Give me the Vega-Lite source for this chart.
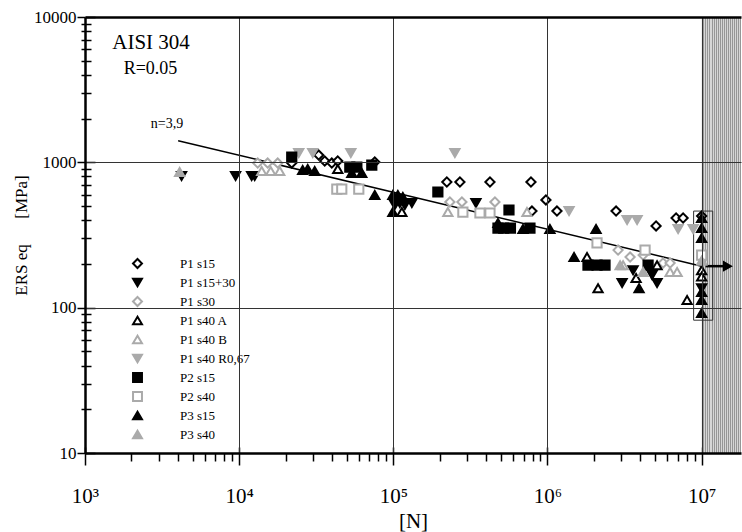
{
  "$schema": "https://vega.github.io/schema/vega-lite/v6.json",
  "width": 656,
  "height": 436,
  "autosize": "none",
  "padding": {"left": 85, "top": 17, "right": 1, "bottom": 79},
  "background": "white",
  "config": {
    "view": {"stroke": null},
    "font": "Liberation Serif",
    "axis": {"labelFont": "Liberation Serif", "titleFont": "Liberation Serif", "labelColor": "black", "titleColor": "black", "titleFontWeight": "normal"}
  },
  "datasets": {
    "pts": [
      {"series": "P1 s15", "n": 21930, "s": 989},
      {"series": "P1 s15", "n": 32800, "s": 1122},
      {"series": "P1 s15", "n": 35900, "s": 1021},
      {"series": "P1 s15", "n": 39900, "s": 989},
      {"series": "P1 s15", "n": 43600, "s": 1021},
      {"series": "P1 s15", "n": 75800, "s": 1005},
      {"series": "P1 s15", "n": 222400, "s": 732},
      {"series": "P1 s15", "n": 270400, "s": 732},
      {"series": "P1 s15", "n": 423600, "s": 732},
      {"series": "P1 s15", "n": 781400, "s": 732},
      {"series": "P1 s15", "n": 977000, "s": 551},
      {"series": "P1 s15", "n": 1152000, "s": 462},
      {"series": "P1 s15", "n": 792900, "s": 462},
      {"series": "P1 s15", "n": 2785000, "s": 462},
      {"series": "P1 s15", "n": 5062000, "s": 365},
      {"series": "P1 s15", "n": 6827000, "s": 414},
      {"series": "P1 s15", "n": 7580000, "s": 414},
      {"series": "P1 s15", "n": 10000000, "s": 427},
      {"series": "P1 s15+30", "n": 4230, "s": 805},
      {"series": "P1 s15+30", "n": 9480, "s": 805},
      {"series": "P1 s15+30", "n": 12050, "s": 805},
      {"series": "P1 s15+30", "n": 12610, "s": 805},
      {"series": "P1 s15+30", "n": 102300, "s": 509},
      {"series": "P1 s15+30", "n": 110200, "s": 525},
      {"series": "P1 s15+30", "n": 118800, "s": 509},
      {"series": "P1 s15+30", "n": 131900, "s": 525},
      {"series": "P1 s15+30", "n": 343400, "s": 525},
      {"series": "P1 s15+30", "n": 3048000, "s": 148},
      {"series": "P1 s15+30", "n": 3591000, "s": 181},
      {"series": "P1 s15+30", "n": 4769000, "s": 168},
      {"series": "P1 s15+30", "n": 5138000, "s": 148},
      {"series": "P1 s15+30", "n": 10000000, "s": 136},
      {"series": "P1 s30", "n": 13190, "s": 989},
      {"series": "P1 s30", "n": 15310, "s": 989},
      {"series": "P1 s30", "n": 17790, "s": 989},
      {"series": "P1 s30", "n": 232800, "s": 534},
      {"series": "P1 s30", "n": 278600, "s": 534},
      {"series": "P1 s30", "n": 456200, "s": 534},
      {"series": "P1 s30", "n": 2869000, "s": 249},
      {"series": "P1 s30", "n": 3434000, "s": 223},
      {"series": "P1 s30", "n": 4171000, "s": 230},
      {"series": "P1 s30", "n": 5622000, "s": 203},
      {"series": "P1 s30", "n": 6243000, "s": 203},
      {"series": "P1 s40 A", "n": 43600, "s": 899},
      {"series": "P1 s40 A", "n": 113600, "s": 455},
      {"series": "P1 s40 A", "n": 1805000, "s": 223},
      {"series": "P1 s40 A", "n": 2128000, "s": 136},
      {"series": "P1 s40 A", "n": 3756000, "s": 160},
      {"series": "P1 s40 A", "n": 5138000, "s": 196},
      {"series": "P1 s40 A", "n": 8047000, "s": 113},
      {"series": "P1 s40 A", "n": 10000000, "s": 181},
      {"series": "P1 s40 A", "n": 10000000, "s": 164},
      {"series": "P1 s40 B", "n": 14000, "s": 871},
      {"series": "P1 s40 B", "n": 16020, "s": 871},
      {"series": "P1 s40 B", "n": 18330, "s": 871},
      {"series": "P1 s40 B", "n": 225800, "s": 455},
      {"series": "P1 s40 B", "n": 736200, "s": 455},
      {"series": "P1 s40 B", "n": 3093000, "s": 196},
      {"series": "P1 s40 B", "n": 6243000, "s": 176},
      {"series": "P1 s40 B", "n": 6931000, "s": 176},
      {"series": "P1 s40 R0,67", "n": 24340, "s": 1159},
      {"series": "P1 s40 R0,67", "n": 30000, "s": 1159},
      {"series": "P1 s40 R0,67", "n": 53000, "s": 1159},
      {"series": "P1 s40 R0,67", "n": 250800, "s": 1159},
      {"series": "P1 s40 R0,67", "n": 1380000, "s": 462},
      {"series": "P1 s40 R0,67", "n": 3284000, "s": 401},
      {"series": "P1 s40 R0,67", "n": 3813000, "s": 401},
      {"series": "P1 s40 R0,67", "n": 7036000, "s": 348},
      {"series": "P1 s40 R0,67", "n": 8809000, "s": 348},
      {"series": "P2 s15", "n": 21930, "s": 1087},
      {"series": "P2 s15", "n": 52200, "s": 928},
      {"series": "P2 s15", "n": 58000, "s": 928},
      {"series": "P2 s15", "n": 72500, "s": 958},
      {"series": "P2 s15", "n": 194500, "s": 625},
      {"series": "P2 s15", "n": 562600, "s": 470},
      {"series": "P2 s15", "n": 477300, "s": 353},
      {"series": "P2 s15", "n": 520000, "s": 353},
      {"series": "P2 s15", "n": 575000, "s": 353},
      {"series": "P2 s15", "n": 769700, "s": 353},
      {"series": "P2 s15", "n": 1831000, "s": 196},
      {"series": "P2 s15", "n": 2096000, "s": 196},
      {"series": "P2 s15", "n": 2362000, "s": 196},
      {"series": "P2 s15", "n": 4494000, "s": 196},
      {"series": "P2 s40", "n": 43000, "s": 655},
      {"series": "P2 s40", "n": 46300, "s": 655},
      {"series": "P2 s40", "n": 59700, "s": 655},
      {"series": "P2 s40", "n": 282600, "s": 455},
      {"series": "P2 s40", "n": 364600, "s": 448},
      {"series": "P2 s40", "n": 423600, "s": 448},
      {"series": "P2 s40", "n": 2096000, "s": 279},
      {"series": "P2 s40", "n": 4295000, "s": 249},
      {"series": "P2 s40", "n": 10000000, "s": 230},
      {"series": "P3 s15", "n": 25820, "s": 885},
      {"series": "P3 s15", "n": 27840, "s": 899},
      {"series": "P3 s15", "n": 30900, "s": 871},
      {"series": "P3 s15", "n": 53800, "s": 844},
      {"series": "P3 s15", "n": 62400, "s": 844},
      {"series": "P3 s15", "n": 75800, "s": 596},
      {"series": "P3 s15", "n": 99300, "s": 596},
      {"series": "P3 s15", "n": 107000, "s": 596},
      {"series": "P3 s15", "n": 115300, "s": 577},
      {"series": "P3 s15", "n": 99300, "s": 455},
      {"series": "P3 s15", "n": 477300, "s": 382},
      {"series": "P3 s15", "n": 693600, "s": 348},
      {"series": "P3 s15", "n": 1037000, "s": 348},
      {"series": "P3 s15", "n": 2065000, "s": 348},
      {"series": "P3 s15", "n": 1487000, "s": 223},
      {"series": "P3 s15", "n": 3927000, "s": 136},
      {"series": "P3 s15", "n": 10000000, "s": 414},
      {"series": "P3 s15", "n": 10000000, "s": 353},
      {"series": "P3 s15", "n": 10000000, "s": 301},
      {"series": "P3 s15", "n": 10000000, "s": 128},
      {"series": "P3 s15", "n": 10000000, "s": 113},
      {"series": "P3 s15", "n": 10000000, "s": 92},
      {"series": "P3 s40", "n": 4110, "s": 857},
      {"series": "P3 s40", "n": 2958000, "s": 196},
      {"series": "P3 s40", "n": 4171000, "s": 176},
      {"series": "P3 s40", "n": 10000000, "s": 210}
    ]
  },
  "layer": [
    {
      "data": {"values": [{"x1": 10000000, "x2": 18000000, "y1": 10, "y2": 10000}]},
      "mark": {"type": "rect", "stroke": null, "fill": {"gradient": "linear", "x1": 0, "y1": 0, "x2": 1, "y2": 0, "stops": [
        {"offset": 0, "color": "#d6d6d6"}, {"offset": 0.025, "color": "#d6d6d6"}, {"offset": 0.025, "color": "#969696"}, {"offset": 0.05, "color": "#969696"},
        {"offset": 0.05, "color": "#d6d6d6"}, {"offset": 0.075, "color": "#d6d6d6"}, {"offset": 0.075, "color": "#969696"}, {"offset": 0.1, "color": "#969696"},
        {"offset": 0.1, "color": "#d6d6d6"}, {"offset": 0.125, "color": "#d6d6d6"}, {"offset": 0.125, "color": "#969696"}, {"offset": 0.15, "color": "#969696"},
        {"offset": 0.15, "color": "#d6d6d6"}, {"offset": 0.175, "color": "#d6d6d6"}, {"offset": 0.175, "color": "#969696"}, {"offset": 0.2, "color": "#969696"},
        {"offset": 0.2, "color": "#d6d6d6"}, {"offset": 0.225, "color": "#d6d6d6"}, {"offset": 0.225, "color": "#969696"}, {"offset": 0.25, "color": "#969696"},
        {"offset": 0.25, "color": "#d6d6d6"}, {"offset": 0.275, "color": "#d6d6d6"}, {"offset": 0.275, "color": "#969696"}, {"offset": 0.3, "color": "#969696"},
        {"offset": 0.3, "color": "#d6d6d6"}, {"offset": 0.325, "color": "#d6d6d6"}, {"offset": 0.325, "color": "#969696"}, {"offset": 0.35, "color": "#969696"},
        {"offset": 0.35, "color": "#d6d6d6"}, {"offset": 0.375, "color": "#d6d6d6"}, {"offset": 0.375, "color": "#969696"}, {"offset": 0.4, "color": "#969696"},
        {"offset": 0.4, "color": "#d6d6d6"}, {"offset": 0.425, "color": "#d6d6d6"}, {"offset": 0.425, "color": "#969696"}, {"offset": 0.45, "color": "#969696"},
        {"offset": 0.45, "color": "#d6d6d6"}, {"offset": 0.475, "color": "#d6d6d6"}, {"offset": 0.475, "color": "#969696"}, {"offset": 0.5, "color": "#969696"},
        {"offset": 0.5, "color": "#d6d6d6"}, {"offset": 0.525, "color": "#d6d6d6"}, {"offset": 0.525, "color": "#969696"}, {"offset": 0.55, "color": "#969696"},
        {"offset": 0.55, "color": "#d6d6d6"}, {"offset": 0.575, "color": "#d6d6d6"}, {"offset": 0.575, "color": "#969696"}, {"offset": 0.6, "color": "#969696"},
        {"offset": 0.6, "color": "#d6d6d6"}, {"offset": 0.625, "color": "#d6d6d6"}, {"offset": 0.625, "color": "#969696"}, {"offset": 0.65, "color": "#969696"},
        {"offset": 0.65, "color": "#d6d6d6"}, {"offset": 0.675, "color": "#d6d6d6"}, {"offset": 0.675, "color": "#969696"}, {"offset": 0.7, "color": "#969696"},
        {"offset": 0.7, "color": "#d6d6d6"}, {"offset": 0.725, "color": "#d6d6d6"}, {"offset": 0.725, "color": "#969696"}, {"offset": 0.75, "color": "#969696"},
        {"offset": 0.75, "color": "#d6d6d6"}, {"offset": 0.775, "color": "#d6d6d6"}, {"offset": 0.775, "color": "#969696"}, {"offset": 0.8, "color": "#969696"},
        {"offset": 0.8, "color": "#d6d6d6"}, {"offset": 0.825, "color": "#d6d6d6"}, {"offset": 0.825, "color": "#969696"}, {"offset": 0.85, "color": "#969696"},
        {"offset": 0.85, "color": "#d6d6d6"}, {"offset": 0.875, "color": "#d6d6d6"}, {"offset": 0.875, "color": "#969696"}, {"offset": 0.9, "color": "#969696"},
        {"offset": 0.9, "color": "#d6d6d6"}, {"offset": 0.925, "color": "#d6d6d6"}, {"offset": 0.925, "color": "#969696"}, {"offset": 0.95, "color": "#969696"},
        {"offset": 0.95, "color": "#d6d6d6"}, {"offset": 0.975, "color": "#d6d6d6"}, {"offset": 0.975, "color": "#969696"}, {"offset": 1, "color": "#969696"}
      ]}},
      "encoding": {
        "x": {"field": "x1", "type": "quantitative", "scale": {"type": "log", "domain": [1000, 18000000], "nice": false},
          "axis": {"orient": "bottom", "values": [1000, 10000, 100000, 1000000, 10000000], "tickSize": -6, "tickWidth": 1.5, "tickColor": "black", "labels": false, "domain": false, "grid": false, "title": null}},
        "x2": {"field": "x2"},
        "y": {"field": "y1", "type": "quantitative", "scale": {"type": "log", "domain": [10, 10000], "nice": false},
          "axis": {"orient": "left", "values": [10, 20, 30, 40, 50, 60, 70, 80, 90, 100, 200, 300, 400, 500, 600, 700, 800, 900, 1000, 2000, 3000, 4000, 5000, 6000, 7000, 8000, 9000, 10000],
            "tickSize": {"condition": {"test": "datum.value==10||datum.value==100||datum.value==1000||datum.value==10000", "value": -10}, "value": -6},
            "tickWidth": 1.5, "tickColor": "black", "labels": false, "domain": false, "grid": false, "title": null}},
        "y2": {"field": "y2"}
      }
    },
    {
      "data": {"values": [{"x1": 8870000, "x2": 11800000, "y1": 82, "y2": 462}]},
      "mark": {"type": "rect", "fillOpacity": 0, "stroke": "#333333", "strokeWidth": 1},
      "encoding": {
        "x": {"field": "x1", "type": "quantitative", "axis": null},
        "x2": {"field": "x2"},
        "y": {"field": "y1", "type": "quantitative", "axis": null},
        "y2": {"field": "y2"}
      }
    },
    {
      "data": {"values": [{"n": 4020, "s": 1409}, {"n": 10000000, "s": 193}]},
      "mark": {"type": "line", "color": "black", "strokeWidth": 1.5},
      "encoding": {
        "x": {"field": "n", "type": "quantitative", "axis": null},
        "y": {"field": "s", "type": "quantitative", "axis": null}
      }
    },
    {
      "data": {"values": [{"n": 10600000, "s": 193}, {"n": 14600000, "s": 193}]},
      "mark": {"type": "line", "color": "black", "strokeWidth": 2.5},
      "encoding": {
        "x": {"field": "n", "type": "quantitative", "axis": null},
        "y": {"field": "s", "type": "quantitative", "axis": null}
      }
    },
    {
      "data": {"values": [{"n": 14800000, "s": 193}]},
      "mark": {"type": "point", "shape": "triangle-right", "filled": true, "color": "black", "size": 130, "opacity": 1},
      "encoding": {
        "x": {"field": "n", "type": "quantitative", "axis": null},
        "y": {"field": "s", "type": "quantitative", "axis": null}
      }
    },
    {
      "data": {"name": "pts"},
      "mark": {"type": "point", "strokeWidth": 2, "size": 85, "opacity": 1},
      "encoding": {
        "x": {"field": "n", "type": "quantitative",
          "axis": {"orient": "bottom", "zindex": 1, "values": [1000, 2000, 3000, 4000, 5000, 6000, 7000, 8000, 9000, 10000, 20000, 30000, 40000, 50000, 60000, 70000, 80000, 90000, 100000, 200000, 300000, 400000, 500000, 600000, 700000, 800000, 900000, 1000000, 2000000, 3000000, 4000000, 5000000, 6000000, 7000000, 8000000, 9000000, 10000000],
            "labelExpr": "datum.value==1000?'10³':datum.value==10000?'10⁴':datum.value==100000?'10⁵':datum.value==1000000?'10⁶':datum.value==10000000?'10⁷':''",
            "labelFontSize": 21, "labelBaseline": "alphabetic", "labelPadding": 37, "labelOverlap": false, "labelFlush": false,
            "tickSize": {"condition": {"test": "datum.value==1000||datum.value==10000||datum.value==100000||datum.value==1000000||datum.value==10000000", "value": 12}, "value": 8},
            "tickWidth": 1.5, "tickColor": "black",
            "domainColor": "black", "domainWidth": 2.5,
            "grid": true,
            "gridColor": "#333333", "gridWidth": 1,
            "gridOpacity": {"condition": {"test": "datum.value==10000||datum.value==100000||datum.value==1000000||datum.value==10000000", "value": 1}, "value": 0},
            "title": "[N]", "titleFontSize": 21, "titleBaseline": "alphabetic", "titleY": 74}},
        "y": {"field": "s", "type": "quantitative",
          "axis": {"orient": "left", "zindex": 1, "values": [10, 20, 30, 40, 50, 60, 70, 80, 90, 100, 200, 300, 400, 500, 600, 700, 800, 900, 1000, 2000, 3000, 4000, 5000, 6000, 7000, 8000, 9000, 10000],
            "labelExpr": "(datum.value==10||datum.value==100||datum.value==1000||datum.value==10000)?(''+datum.value):''",
            "labelFontSize": 17, "labelPadding": 1, "labelOverlap": false, "labelFlush": false, "labelBaseline": "middle",
            "tickSize": {"condition": {"test": "datum.value==10||datum.value==100||datum.value==1000||datum.value==10000", "value": 8}, "value": 4},
            "tickWidth": 1.5, "tickColor": "black",
            "domainColor": "black", "domainWidth": 2.5,
            "grid": true,
            "gridColor": {"condition": {"test": "datum.value==10000", "value": "black"}, "value": "#333333"},
            "gridWidth": {"condition": {"test": "datum.value==10000", "value": 2.5}, "value": 1},
            "gridOpacity": {"condition": {"test": "datum.value==100||datum.value==1000||datum.value==10000", "value": 1}, "value": 0},
            "title": "ERS eq\u00a0\u00a0\u00a0\u00a0\u00a0\u00a0[MPa]", "titleFontSize": 17, "titleX": -64, "titleY": 218, "titleAlign": "center", "titleBaseline": "middle", "titleAngle": 270}},
        "shape": {"field": "series", "type": "nominal",
          "scale": {"domain": ["P1 s15", "P1 s15+30", "P1 s30", "P1 s40 A", "P1 s40 B", "P1 s40 R0,67", "P2 s15", "P2 s40", "P3 s15", "P3 s40"],
            "range": ["diamond", "triangle-down", "diamond", "triangle-up", "triangle-up", "triangle-down", "square", "square", "triangle-up", "triangle-up"]},
          "legend": {"orient": "none", "legendX": 46, "legendY": 240, "title": null, "labelFont": "Liberation Serif", "labelFontSize": 13, "labelColor": "black", "labelOffset": 36, "rowPadding": 2, "symbolStrokeWidth": 2, "symbolSize": 80, "labelLimit": 200}},
        "fill": {"field": "series", "type": "nominal",
          "scale": {"domain": ["P1 s15", "P1 s15+30", "P1 s30", "P1 s40 A", "P1 s40 B", "P1 s40 R0,67", "P2 s15", "P2 s40", "P3 s15", "P3 s40"],
            "range": ["white", "black", "white", "white", "white", "#aaaaaa", "black", "white", "black", "#aaaaaa"]},
          "legend": {"orient": "none", "legendX": 46, "legendY": 240, "title": null, "labelFont": "Liberation Serif", "labelFontSize": 13, "labelColor": "black", "labelOffset": 36, "rowPadding": 2, "symbolStrokeWidth": 2, "symbolSize": 80, "labelLimit": 200}},
        "stroke": {"field": "series", "type": "nominal",
          "scale": {"domain": ["P1 s15", "P1 s15+30", "P1 s30", "P1 s40 A", "P1 s40 B", "P1 s40 R0,67", "P2 s15", "P2 s40", "P3 s15", "P3 s40"],
            "range": ["black", "black", "#aaaaaa", "black", "#aaaaaa", "#aaaaaa", "black", "#aaaaaa", "black", "#aaaaaa"]},
          "legend": {"orient": "none", "legendX": 46, "legendY": 240, "title": null, "labelFont": "Liberation Serif", "labelFontSize": 13, "labelColor": "black", "labelOffset": 36, "rowPadding": 2, "symbolStrokeWidth": 2, "symbolSize": 80, "labelLimit": 200}}
      }
    },
    {
      "data": {"values": [{"n": 2683, "s": 6030, "t": "AISI 304"}]},
      "mark": {"type": "text", "font": "Liberation Serif", "fontSize": 21, "align": "center", "baseline": "alphabetic", "color": "black"},
      "encoding": {
        "x": {"field": "n", "type": "quantitative", "axis": null},
        "y": {"field": "s", "type": "quantitative", "axis": null},
        "text": {"field": "t"}
      }
    },
    {
      "data": {"values": [{"n": 2660, "s": 4053, "t": "R=0.05"}]},
      "mark": {"type": "text", "font": "Liberation Serif", "fontSize": 18, "align": "center", "baseline": "alphabetic", "color": "black"},
      "encoding": {
        "x": {"field": "n", "type": "quantitative", "axis": null},
        "y": {"field": "s", "type": "quantitative", "axis": null},
        "text": {"field": "t"}
      }
    },
    {
      "data": {"values": [{"n": 3404, "s": 1722, "t": "n=3,9"}]},
      "mark": {"type": "text", "font": "Liberation Serif", "fontSize": 14, "align": "center", "baseline": "alphabetic", "color": "black"},
      "encoding": {
        "x": {"field": "n", "type": "quantitative", "axis": null},
        "y": {"field": "s", "type": "quantitative", "axis": null},
        "text": {"field": "t"}
      }
    }
  ],
  "resolve": {"axis": {"x": "independent", "y": "independent"}}
}
